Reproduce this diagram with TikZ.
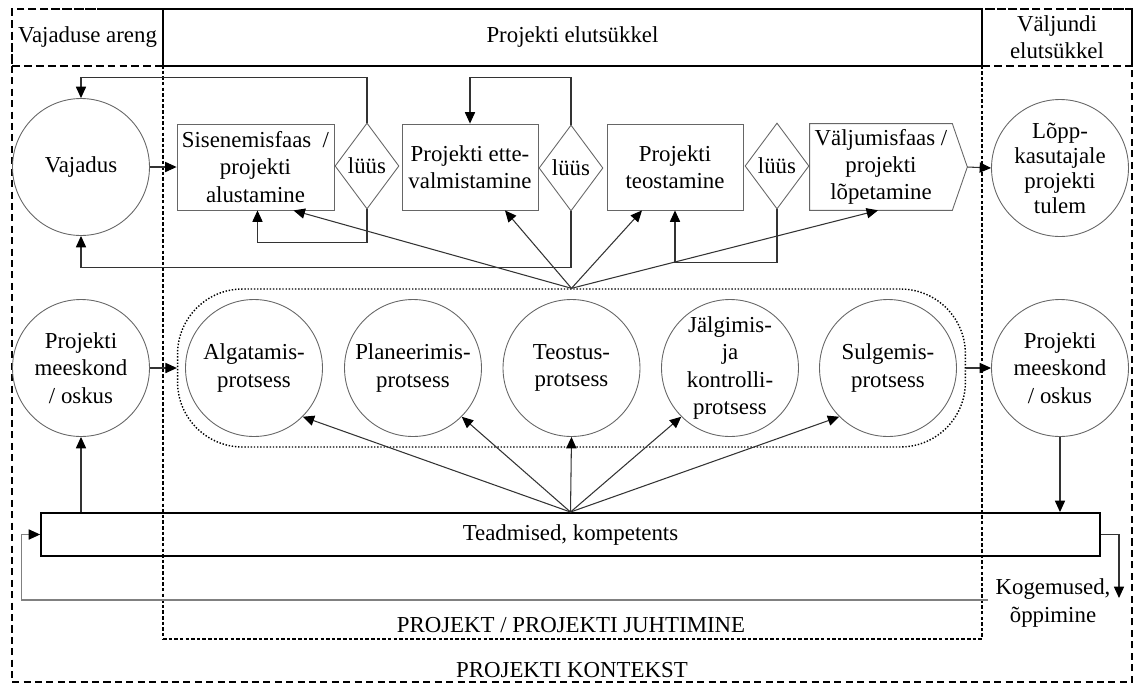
\documentclass[tikz,border=0pt]{standalone}
\usepackage{fontspec}
\setmainfont{Liberation Serif}
\usetikzlibrary{shapes.geometric,arrows.meta,calc}

\begin{document}
\begin{tikzpicture}[
  x=0.02cm, y=-0.02cm,
  every node/.style={font=\fontsize{13}{15.5}\selectfont, text=black},
  shapeline/.style={draw=black!60, line width=0.5pt},
  circ/.style={shapeline, circle, minimum size=2.74cm, inner sep=0pt, align=center},
  phasebox/.style={shapeline, rectangle, minimum height=1.72cm, inner sep=0pt, align=center},
  gate/.style={shapeline, diamond, minimum width=1.28cm, minimum height=1.72cm, inner sep=0pt},
  conn/.style={draw=black!80, line width=0.6pt, -{Triangle[length=6.5pt, width=5.8pt, color=black]}},
  hdrdash/.style={draw=black, line width=1pt, dash pattern=on 4.5pt off 2.3pt},
]
\useasboundingbox (0,0) rectangle (1134,684);

% outer context frame and the project frame
\node[draw=black, line width=0.9pt, dash pattern=on 4pt off 2.5pt,
      minimum width=22.4cm, minimum height=13.46cm, inner sep=0pt] (ctx) at (572,345.5) {};
\node[draw=black, line width=0.8pt, dash pattern=on 2pt off 1.2pt,
      minimum width=16.38cm, minimum height=11.46cm, inner sep=0pt] (proj) at (572.5,352.5) {};
\node (projl) at (571,625) {PROJEKT / PROJEKTI JUHTIMINE};
\node (ctxl) at (572,670) {PROJEKTI KONTEKST};

% column headers
\node[hdrdash, minimum width=3.02cm, minimum height=1.14cm, inner sep=0pt] (hv) at (87.5,37.5) {Vajaduse areng};
\node[draw=black, line width=1.1pt, minimum width=16.38cm, minimum height=1.14cm, inner sep=0pt] (hp) at (572.5,37.5) {Projekti elutsükkel};
\node[hdrdash, minimum width=3cm, minimum height=1.14cm, inner sep=0pt, align=center] (hw) at (1057,37.5) {Väljundi\\elutsükkel};

% life-cycle row
\node[circ] (vaj) at (81,167) {Vajadus};
\node[phasebox, minimum width=3.14cm] (b1) at (255.5,167) {Sisenemisfaas\ \ /\\projekti\\alustamine};
\node[gate] (g1) at (367,166) {lüüs};
\node[phasebox, minimum width=2.72cm] (b2) at (470,167) {Projekti ette-\\valmistamine};
\node[gate] (g2) at (571,168) {lüüs};
\node[phasebox, minimum width=2.72cm] (b3) at (675,167) {Projekti\\teostamine};
\node[gate] (g3) at (777,166) {lüüs};
\node[rectangle, minimum width=2.84cm, minimum height=1.72cm, inner sep=0pt, align=center] (b4) at (881,167) {Väljumisfaas /\\projekti\\lõpetamine};
\coordinate (b4tip) at ($(b4.east)+(15,0)$);
\draw[shapeline] (b4.north west) -- (b4.north east) -- (b4tip) -- (b4.south east) -- (b4.south west) -- cycle;
\node[circ, font=\fontsize{13}{14.2}\selectfont] (lop) at (1060,168) {Lõpp-\\kasutajale\\projekti\\tulem};

% process row
\node[draw=black, line width=0.8pt, densely dotted, rounded corners=1.3cm,
      minimum width=15.76cm, minimum height=3.16cm, inner sep=0pt] (grp) at (571.5,368) {};
\node[circ] (tm1) at (81,368) {Projekti\\meeskond\\/ oskus};
\node[circ] (alg) at (254,368) {Algatamis-\\protsess};
\node[circ] (pla) at (413,368) {Planeerimis-\\protsess};
\node[circ] (teo) at (571.5,368) {Teostus-\\protsess};
\node[circ] (jal) at (730,368) {Jälgimis-\\ja\\kontrolli-\\protsess};
\node[circ] (sul) at (888,368) {Sulgemis-\\protsess};
\node[circ] (tm2) at (1060,368) {Projekti\\meeskond\\/ oskus};

% knowledge bar and learning label
\node[draw=black, line width=1.1pt, minimum width=21.18cm, minimum height=0.86cm, inner sep=0pt] (ted) at (570.5,534.5) {Teadmised, kompetents};
\node[align=center, inner sep=0pt] (kog) at (1053,603) {Kogemused,\\õppimine};
\coordinate (kogarr) at (1119,598);

% main flow
\draw[conn] (vaj.east) -- (b1.west);
\draw[conn] (b4tip) -- (lop.west);
\draw[conn] (tm1.east) -- (grp.west);
\draw[conn] (grp.east) -- (tm2.west);

% gate feedback loops
\draw[conn] (g1.north) -- ++(0,-45) -| (vaj.north);
\draw[conn] (g2.north) -- ++(0,-47) -| (b2.north);
\draw[conn] (g1.south) -- ++(0,33) -| ($(b1.south)+(2,0)$);
\draw[conn] (g2.south) -- ++(0,56) -| (vaj.south);
\draw[conn] (g3.south) -- ++(0,53) -| (b3.south);

% processes feeding the phases
\draw[conn] (grp.north) -- ($(b1.south)+(38,0)$);
\draw[conn] (grp.north) -- ($(b2.south)+(35,0)$);
\draw[conn] (grp.north) -- ($(b3.south)+(-33,0)$);
\draw[conn] (grp.north) -- ($(b4.south)+(-3,0)$);

% knowledge feeding the processes and the team
\draw[conn] (ted.north) -- (alg.-45);
\draw[conn] (ted.north) -- (pla.-45);
\draw[conn] (ted.north) -- (teo.south);
\draw[conn] (ted.north) -- (jal.-135);
\draw[conn] (ted.north) -- (sul.-135);
\draw[conn] (ted.north -| tm1.south) -- (tm1.south);
\draw[conn] (tm2.south) -- (tm2.south |- ted.north);

% learning loop
\draw[conn] (ted.east) -| (kogarr);
\draw[conn, draw=black!50] ($(kog.west)+(-7,-3)$) -| ($(ted.west)+(-19,0)$) -- (ted.west);
\end{tikzpicture}
\end{document}
